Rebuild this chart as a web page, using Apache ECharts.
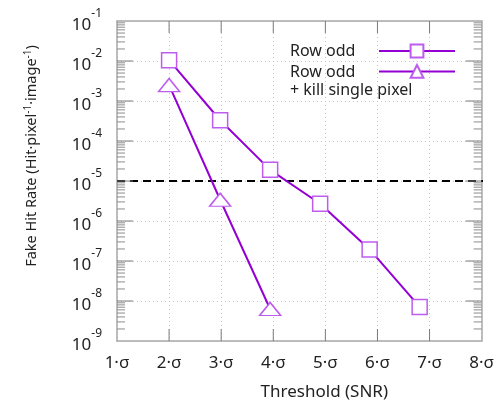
<!DOCTYPE html>
<html>
<head>
<meta charset="utf-8">
<script src="https://cdn.jsdelivr.net/npm/echarts@6/dist/echarts.min.js"></script>
<style>html,body{margin:0;background:#fff}#chart{width:497px;height:407px}</style>
</head>
<body>
<div id="chart"></div>
<script>
// threshold in units of sigma, rate in hits per pixel per image
const thresholds = [2.0, 2.98, 3.94, 4.9, 5.85, 6.81];
const rowOdd = [1.05e-2, 3.3e-4, 1.9e-5, 2.7e-6, 1.95e-7, 7.1e-9];
const killThresholds = [2.0, 2.98, 3.94];
const rowOddKill = [2.5e-3, 3.4e-6, 6.3e-9];
const limitRate = 1e-5;
const limitSpan = [1, 8.3];
const seriesNames = ['Row odd', 'Row odd + kill single pixel'];
const xRange = [1, 8];
const yRange = [1e-9, 1e-1];
const xTicks = [2, 3, 4, 5, 6, 7];
const yMajor = [1e-8, 1e-7, 1e-6, 1e-5, 1e-4, 1e-3, 1e-2];

// minor log ticks 2..9 x 10^e
const yMinor = [];
for (let e = -9; e < -1; e++) {
  for (let m = 2; m <= 9; m++) yMinor.push(m * Math.pow(10, e));
}

const FONT = '"Noto Sans", "DejaVu Sans", sans-serif';
const frame = { show: true, lineStyle: { color: '#a8a8a8', width: 1.5 } };
const gridLine = { show: true, lineStyle: { color: '#c4c4c4', type: [1, 3], width: 1 } };

function supLabel(v) {
  const e = Math.round(Math.log10(v));
  return '{b|10}{s|' + e + '}';
}

// inward tick marks on both sides of the frame, placed through the axes
function yTickSeries(values, len, color) {
  return {
    type: 'custom', silent: true, clip: false, z: 2,
    data: values.map(v => [xRange[0], v]),
    renderItem: function (params, api) {
      const a = api.coord([xRange[0], api.value(1)]);
      const b = api.coord([xRange[1], api.value(1)]);
      const st = { stroke: color, lineWidth: 1 };
      return { type: 'group', children: [
        { type: 'line', shape: { x1: a[0], y1: a[1], x2: a[0] + len, y2: a[1] }, style: st },
        { type: 'line', shape: { x1: b[0], y1: b[1], x2: b[0] - len, y2: b[1] }, style: st }
      ] };
    }
  };
}

function xTickSeries(values, len, color) {
  return {
    type: 'custom', silent: true, clip: false, z: 2,
    data: values.map(x => [x, yRange[0]]),
    renderItem: function (params, api) {
      const a = api.coord([api.value(0), yRange[0]]);
      const b = api.coord([api.value(0), yRange[1]]);
      const st = { stroke: color, lineWidth: 1 };
      return { type: 'group', children: [
        { type: 'line', shape: { x1: a[0], y1: a[1], x2: a[0], y2: a[1] - len }, style: st },
        { type: 'line', shape: { x1: b[0], y1: b[1], x2: b[0], y2: b[1] + len }, style: st }
      ] };
    }
  };
}

const chart = echarts.init(document.getElementById('chart'));
const option = {
  animation: false,
  backgroundColor: '#fff',
  textStyle: { fontFamily: FONT },
  grid: { left: 117, right: 14, top: 21, bottom: 66 },
  legend: {
    orient: 'vertical',
    right: 36,
    top: 38,
    align: 'right',
    itemWidth: 76,
    itemHeight: 16,
    itemGap: 5,
    data: seriesNames,
    textStyle: {
      fontFamily: FONT, fontSize: 16, color: '#222', width: 84, overflow: 'none',
      rich: {
        a: { fontFamily: FONT, fontSize: 16, color: '#222', lineHeight: 38, verticalAlign: 'bottom', align: 'left' },
        b: { fontFamily: FONT, fontSize: 16, color: '#222', lineHeight: 19, align: 'left' },
        c: { fontFamily: FONT, fontSize: 16, color: '#222', lineHeight: 19, align: 'left' }
      }
    },
    formatter: function (name) {
      return name === seriesNames[1] ? '{a|Row odd}\n{b|+ kill single pixel}' : '{c|Row odd}';
    }
  },
  xAxis: [{
    type: 'value', min: xRange[0], max: xRange[1], interval: 1,
    name: 'Threshold (SNR)', nameLocation: 'middle', nameGap: 43,
    nameTextStyle: { fontFamily: FONT, fontSize: 17, color: '#222', padding: [0, 0, 0, 50] },
    axisLine: frame,
    axisTick: { show: false },
    axisLabel: { formatter: v => v + '\u00b7\u03c3', fontFamily: FONT, fontSize: 17, color: '#222', margin: 14 },
    splitLine: gridLine
  }, {
    type: 'value', min: xRange[0], max: xRange[1], interval: 1, position: 'top',
    axisLine: frame,
    axisTick: { show: false },
    axisLabel: { show: false },
    splitLine: { show: false }
  }],
  yAxis: [{
    type: 'log', logBase: 10, min: yRange[0], max: yRange[1],
    name: 'Fake Hit Rate (Hit\u00b7pixel{s|-1}\u00b7image{s|-1})',
    nameLocation: 'middle', nameGap: 76,
    nameTextStyle: {
      fontFamily: FONT, fontSize: 14.5, color: '#222', padding: [0, 0, 0, 50],
      rich: { s: { fontFamily: FONT, fontSize: 10, color: '#222', verticalAlign: 'top', lineHeight: 18 } }
    },
    axisLine: frame,
    axisTick: { show: false },
    axisLabel: {
      formatter: supLabel, margin: 15,
      rich: {
        b: { fontFamily: FONT, fontSize: 17, color: '#222', verticalAlign: 'bottom', lineHeight: 26 },
        s: { fontFamily: FONT, fontSize: 12, color: '#222', verticalAlign: 'top', lineHeight: 26 }
      }
    },
    splitLine: gridLine
  }, {
    type: 'log', logBase: 10, min: yRange[0], max: yRange[1], position: 'right',
    axisLine: frame,
    axisTick: { show: false },
    axisLabel: { show: false },
    splitLine: { show: false }
  }],
  series: [
    yTickSeries(yMinor, 8, '#8c8c8c'),
    yTickSeries(yMajor, 16, '#7a7a7a'),
    xTickSeries(xTicks, 12, '#7a7a7a'),
    {
      name: 'limit',
      type: 'line',
      data: limitSpan.map(x => [x, limitRate]),
      clip: false,
      symbol: 'none',
      silent: true,
      lineStyle: { color: '#000', type: [8, 5], width: 2 },
      z: 1
    }, {
      name: seriesNames[0],
      type: 'line',
      data: thresholds.map((x, i) => [x, rowOdd[i]]),
      symbol: 'rect',
      symbolSize: 15,
      lineStyle: { color: '#9400d3', width: 2 },
      itemStyle: { color: '#fff', borderColor: '#be5cef', borderWidth: 1.5 },
      z: 3
    }, {
      name: seriesNames[1],
      type: 'line',
      data: killThresholds.map((x, i) => [x, rowOddKill[i]]),
      symbol: 'triangle',
      symbolSize: [21, 13],
      lineStyle: { color: '#9400d3', width: 2 },
      itemStyle: { color: '#fff', borderColor: '#be5cef', borderWidth: 1.5 },
      z: 3
    }
  ]
};
chart.setOption(option);
</script>
</body>
</html>
